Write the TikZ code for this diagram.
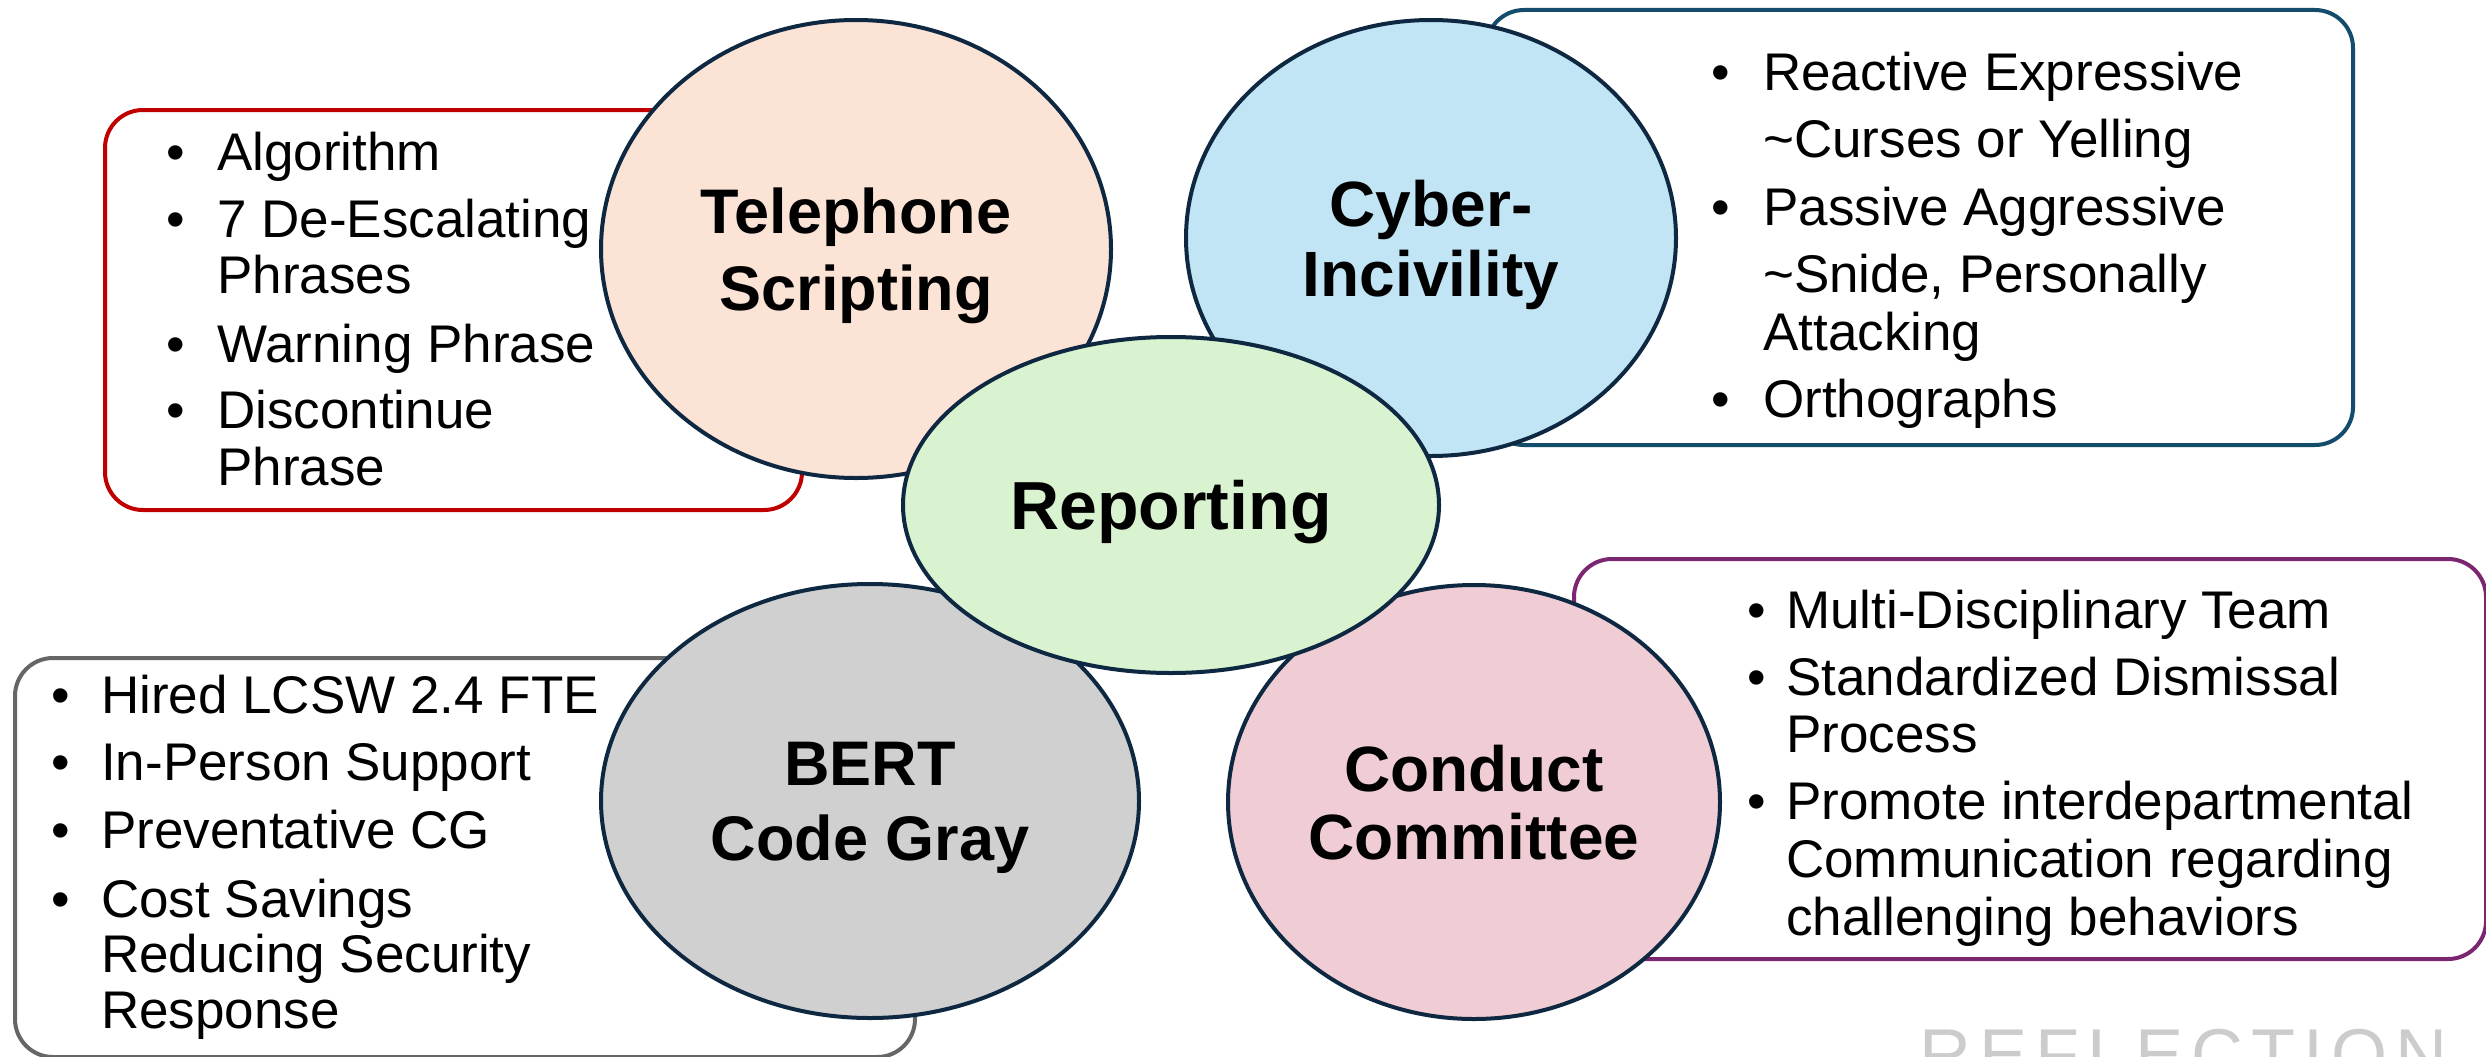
\documentclass[tikz,border=0pt]{standalone}
\usepackage{fontspec}
\setmainfont{Liberation Sans}
\usetikzlibrary{shapes.geometric}
\definecolor{navy}{HTML}{0E2841}
\definecolor{boxred}{HTML}{C00000}
\definecolor{boxblue}{HTML}{134D6B}
\definecolor{boxgray}{HTML}{666666}
\definecolor{boxpurple}{HTML}{7B2670}
\definecolor{fillpeach}{HTML}{FBE3D6}
\definecolor{fillblue}{HTML}{C1E5F5}
\definecolor{fillgreen}{HTML}{D9F2D0}
\definecolor{fillgray}{HTML}{D0D0D0}
\definecolor{fillpink}{HTML}{F0CDD5}
\definecolor{refl}{HTML}{CCCCCC}
\tikzset{
  bubble/.style={ellipse, draw=navy, line width=4pt, inner sep=0pt, align=center, text depth=0pt},
  listbox/.style={rectangle, rounded corners=38pt, line width=4pt, fill=white, anchor=north west, inner sep=0pt},
  item/.style={anchor=base west, inner sep=0pt, font=\fontsize{53}{57}\selectfont},
  bul/.style={anchor=base, inner sep=0pt, font=\fontsize{53}{57}\selectfont}
}
\begin{document}
\begin{tikzpicture}[x=1pt,y=-1pt]
\path[use as bounding box, fill=white] (0,0) rectangle (2486,1057);
\clip (0,0) rectangle (2486,1057);

% list boxes
\node[listbox, draw=boxred, minimum width=697pt, minimum height=400pt] (redbox) at (103,108) {};
\node[listbox, draw=boxblue, minimum width=867pt, minimum height=435pt] (bluebox) at (1484,8) {};
\node[listbox, draw=boxgray, minimum width=900pt, minimum height=399pt] (graybox) at (13,656) {};
\node[listbox, draw=boxpurple, minimum width=912pt, minimum height=400pt] (purplebox) at (1572,557) {};

% red list
\node[bul] (rb1) at (176,170) {•}; \node[item] (r1) at (217,170) {Algorithm};
\node[bul] (rb2) at (176,237) {•}; \node[item] (r2) at (217,237) {7 De-Escalating};
\node[item] (r3) at (217,293) {Phrases};
\node[bul] (rb3) at (176,362) {•}; \node[item] (r4) at (217,362) {Warning Phrase};
\node[bul] (rb4) at (176,428) {•}; \node[item] (r5) at (217,428) {Discontinue};
\node[item] (r6) at (217,485) {Phrase};

% blue list
\node[bul] (bb1) at (1721,90) {•}; \node[item] (b1) at (1763,90) {Reactive Expressive};
\node[item] (b2) at (1763,157) {\textasciitilde Curses or Yelling};
\node[bul] (bb2) at (1721,225) {•}; \node[item] (b3) at (1763,225) {Passive Aggressive};
\node[item] (b4) at (1763,292) {\textasciitilde Snide, Personally};
\node[item] (b5) at (1763,350) {Attacking};
\node[bul] (bb3) at (1721,417) {•}; \node[item] (b6) at (1763,417) {Orthographs};

% gray list
\node[bul] (gb1) at (61,713) {•}; \node[item] (g1) at (101,713) {Hired LCSW 2.4 FTE};
\node[bul] (gb2) at (61,780) {•}; \node[item] (g2) at (101,780) {In-Person Support};
\node[bul] (gb3) at (61,848) {•}; \node[item] (g3) at (101,848) {Preventative CG};
\node[bul] (gb4) at (61,917) {•}; \node[item] (g4) at (101,917) {Cost Savings};
\node[item] (g5) at (101,972) {Reducing Security};
\node[item] (g6) at (101,1028) {Response};

% purple list
\node[bul] (pb1) at (1757,628) {•}; \node[item] (p1) at (1786,628) {Multi-Disciplinary Team};
\node[bul] (pb2) at (1757,695) {•}; \node[item] (p2) at (1786,695) {Standardized Dismissal};
\node[item] (p3) at (1786,752) {Process};
\node[bul] (pb3) at (1757,819) {•}; \node[item] (p4) at (1786,819) {Promote interdepartmental};
\node[item] (p5) at (1786,877) {Communication regarding};
\node[item] (p6) at (1786,935) {challenging behaviors};

% outer bubbles
\node[bubble, fill=fillpeach, minimum width=510pt, minimum height=458pt,
      font=\bfseries\fontsize{63}{77}\selectfont] (tel) at (856,249) {Telephone\\Scripting};
\node[bubble, fill=fillblue, minimum width=490pt, minimum height=436pt,
      font=\bfseries\fontsize{64}{70}\selectfont] (cyber) at (1431,238) {Cyber-\\Incivility};
\node[bubble, fill=fillgray, minimum width=538pt, minimum height=434pt,
      font=\bfseries\fontsize{63}{75}\selectfont] (bert) at (870,801) {BERT\\Code Gray};
\node[bubble, fill=fillpink, minimum width=492pt, minimum height=434pt,
      font=\bfseries\fontsize{64}{68}\selectfont] (conduct) at (1474,802) {Conduct\\Committee};

% centre bubble
\node[bubble, fill=fillgreen, minimum width=536pt, minimum height=336pt,
      font=\bfseries\fontsize{68}{80}\selectfont] (rep) at (1171,505) {Reporting};

% watermark
\node[anchor=base west, inner sep=0pt, text=refl, font=\fontsize{72}{80}\selectfont] (refl) at (1919,1079)
  {R\kern8pt E\kern8pt F\kern8pt L\kern8pt E\kern8pt C\kern8pt T\kern8pt I\kern8pt O\kern8pt N};
\end{tikzpicture}
\end{document}
